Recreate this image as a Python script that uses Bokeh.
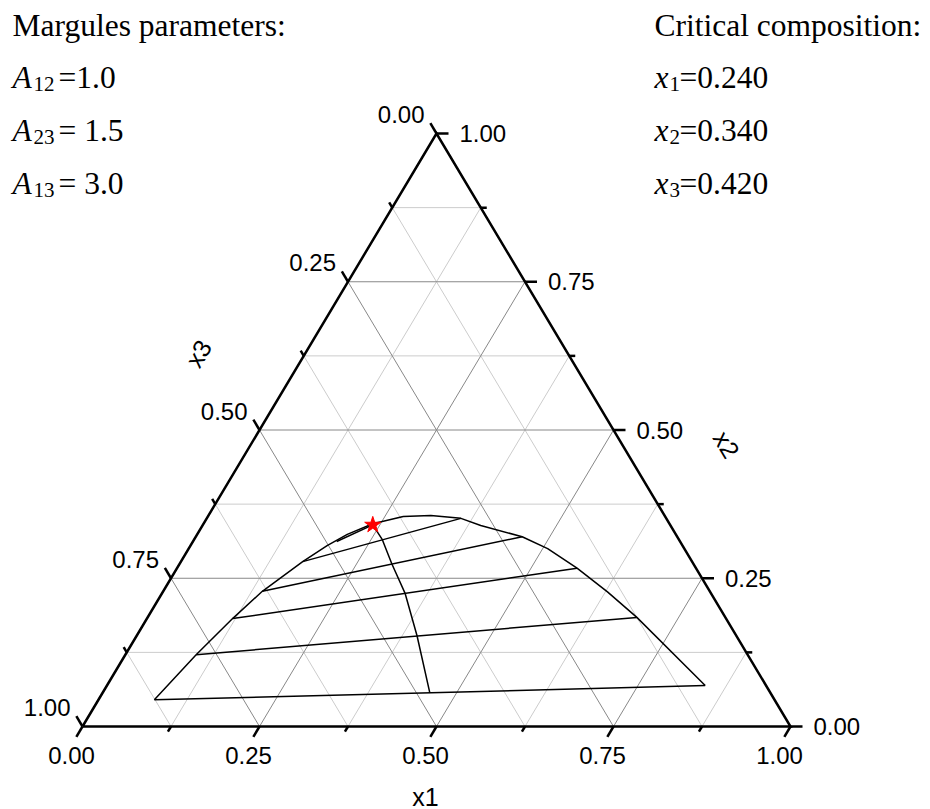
import math
from bokeh.plotting import figure
from bokeh.models import Range1d
from bokeh.embed import file_html
from bokeh.resources import INLINE
from bokeh.core.properties import value

# ---------------- data (ternary compositions: x1, x2; x3 = 1 - x1 - x2) ----------------
major_ticks = [0.0, 0.25, 0.5, 0.75, 1.0]
minor_ticks = [0.125, 0.375, 0.625, 0.875]
tick_labels = ["0.00", "0.25", "0.50", "0.75", "1.00"]

binodal_x1 = [0.079, 0.100, 0.121, 0.140, 0.172, 0.193, 0.212, 0.239, 0.276, 0.314,
              0.359, 0.393, 0.461, 0.507, 0.565, 0.628, 0.691, 0.845]
binodal_x2 = [0.045, 0.121, 0.182, 0.228, 0.278, 0.305, 0.324, 0.342, 0.354, 0.356,
              0.351, 0.339, 0.320, 0.300, 0.267, 0.227, 0.184, 0.069]

tie_left_x1 = [0.079, 0.100, 0.121, 0.140, 0.172, 0.203]
tie_left_x2 = [0.045, 0.121, 0.182, 0.228, 0.278, 0.312]
tie_right_x1 = [0.845, 0.691, 0.565, 0.461, 0.359, 0.240]
tie_right_x2 = [0.069, 0.184, 0.267, 0.320, 0.351, 0.340]

diam_x1 = [0.240, 0.266, 0.300, 0.343, 0.396, 0.462]
diam_x2 = [0.340, 0.315, 0.274, 0.225, 0.153, 0.057]

crit_x1 = [0.240]
crit_x2 = [0.340]

margules_subs = ["12", "23", "13"]
margules_vals = ["=1.0", "= 1.5", "= 3.0"]
crit_subs = ["1", "2", "3"]
crit_vals = ["=0.240", "=0.340", "=0.420"]

# ---------------- layout ----------------
W, H = 930, 809
LEFT, BASE, TW, TH = 82.0, 726.0, 708.0, 593.0   # triangle placement in pixels


def cart(x1, x2):
    return x1 + 0.5 * x2, x2


def dx(px):
    return px / TW


def dy(px):            # pixel offset downward -> data offset
    return -px / TH


def px_x(X):
    return (X - LEFT) / TW


def px_y(Y):
    return (BASE - Y) / TH


p = figure(width=W, height=H, output_backend="svg", toolbar_location=None,
           x_range=Range1d(px_x(0), px_x(W)), y_range=Range1d(px_y(H), px_y(0)),
           min_border=0, outline_line_color=None)
p.axis.visible = False
p.grid.visible = False
p.background_fill_color = "white"
p.border_fill_color = "white"

# ---------------- grid ----------------
def grid_lines(vals):
    xs, ys = [], []
    for v in vals:
        a = cart(v, 0.0); b = cart(v, 1 - v)          # constant x1
        xs.append([a[0], b[0]]); ys.append([a[1], b[1]])
        a = cart(0.0, v); b = cart(1 - v, v)          # constant x2
        xs.append([a[0], b[0]]); ys.append([a[1], b[1]])
        a = cart(1 - v, 0.0); b = cart(0.0, 1 - v)    # constant x3
        xs.append([a[0], b[0]]); ys.append([a[1], b[1]])
    return xs, ys

gx, gy = grid_lines(minor_ticks)
p.multi_line(gx, gy, line_color="#cccccc", line_width=1)
gx, gy = grid_lines([v for v in major_ticks if 0 < v < 1])
p.multi_line(gx, gy, line_color="#888888", line_width=1)

# ---------------- triangle edges ----------------
tri = [cart(0, 0), cart(1, 0), cart(0, 1), cart(0, 0)]
p.line([t[0] for t in tri], [t[1] for t in tri], line_color="black", line_width=2.5,
       line_join="miter")

# ---------------- ticks ----------------
le = math.hypot(354.0, 593.0)
ux, uy = 354.0 / le, 593.0 / le


def ticks(vals, L):
    xs, ys = [], []
    for v in vals:
        bx, by = cart(v, 0.0)                      # bottom (x1)
        xs.append([bx, bx + dx(-ux * L)]); ys.append([by, by + dy(uy * L)])
        rx, ry = cart(1 - v, v)                    # right (x2)
        xs.append([rx, rx + dx(L)]); ys.append([ry, ry])
        lx, ly = cart(0.0, 1 - v)                  # left (x3)
        xs.append([lx, lx + dx(-ux * L)]); ys.append([ly, ly + dy(-uy * L)])
    return xs, ys

tx, ty = ticks(major_ticks, 12)
p.multi_line(tx, ty, line_color="black", line_width=2.5)
tx, ty = ticks(minor_ticks, 6)
p.multi_line(tx, ty, line_color="black", line_width=2.5)

# ---------------- tick labels ----------------
sans = value("Liberation Sans")
fs = "24px"
bx = [cart(v, 0)[0] + dx(-11) for v in major_ticks]
by = [cart(v, 0)[1] + dy(28.5) for v in major_ticks]
p.text(bx, by, text=tick_labels, text_font=sans, text_font_size=fs,
       text_align="center", text_baseline="middle", text_color="black")
rx = [cart(1 - v, v)[0] + dx(23) for v in major_ticks]
ry = [cart(1 - v, v)[1] for v in major_ticks]
p.text(rx, ry, text=tick_labels, text_font=sans, text_font_size=fs,
       text_align="left", text_baseline="middle", text_color="black")
lx = [cart(0, 1 - v)[0] + dx(-12) for v in major_ticks]
ly = [cart(0, 1 - v)[1] + dy(-19) for v in major_ticks]
p.text(lx, ly, text=tick_labels, text_font=sans, text_font_size=fs,
       text_align="right", text_baseline="middle", text_color="black")

# axis titles
mb = cart(0.5, 0); mr = cart(0.5, 0.5); ml = cart(0, 0.5)
ang = math.atan2(593.0, 354.0)
p.text([mb[0] + dx(-11)], [mb[1] + dy(70)], text=["x1"], text_font=sans,
       text_font_size="25px", text_align="center", text_baseline="middle")
p.text([mr[0] + dx(113)], [mr[1] + dy(14.5)], text=["x2"], text_font=sans,
       text_font_size="25px", text_align="center", text_baseline="middle", angle=-ang)
p.text([ml[0] + dx(-61)], [ml[1] + dy(-76.5)], text=["x3"], text_font=sans,
       text_font_size="25px", text_align="center", text_baseline="middle", angle=ang)

# ---------------- phase diagram ----------------
bxs, bys = zip(*[cart(a, b) for a, b in zip(binodal_x1, binodal_x2)])
p.line(list(bxs), list(bys), line_color="black", line_width=1.5)

tl = [cart(a, b) for a, b in zip(tie_left_x1, tie_left_x2)]
tr = [cart(a, b) for a, b in zip(tie_right_x1, tie_right_x2)]
p.segment([t[0] for t in tl], [t[1] for t in tl], [t[0] for t in tr], [t[1] for t in tr],
          line_color="black", line_width=1.5)

dxs, dys = zip(*[cart(a, b) for a, b in zip(diam_x1, diam_x2)])
p.line(list(dxs), list(dys), line_color="black", line_width=1.5)

cx, cy = zip(*[cart(a, b) for a, b in zip(crit_x1, crit_x2)])
p.scatter(list(cx), list(cy), marker="star", size=17, fill_color="red",
          line_color="red")

# ---------------- annotations ----------------
serif = value("Liberation Serif")
big, small = "31.5px", "21px"
title_c = 25
row_c = [77, 130, 183]
p.text([px_x(12)], [px_y(title_c)], text=["Margules parameters:"], text_font=serif,
       text_font_size=big, text_baseline="middle")
p.text([px_x(12)] * 3, [px_y(c) for c in row_c], text=["A"] * 3, text_font=serif,
       text_font_style="italic", text_font_size=big, text_baseline="middle")
p.text([px_x(33)] * 3, [px_y(c + 6) for c in row_c], text=margules_subs,
       text_font=serif, text_font_size=small, text_baseline="middle")
p.text([px_x(58)] * 3, [px_y(c) for c in row_c], text=margules_vals,
       text_font=serif, text_font_size=big, text_baseline="middle")

p.text([px_x(654)], [px_y(title_c)], text=["Critical composition:"], text_font=serif,
       text_font_size=big, text_baseline="middle")
p.text([px_x(654)] * 3, [px_y(c) for c in row_c], text=["x"] * 3, text_font=serif,
       text_font_style="italic", text_font_size=big, text_baseline="middle")
p.text([px_x(669)] * 3, [px_y(c + 6) for c in row_c], text=crit_subs,
       text_font=serif, text_font_size=small, text_baseline="middle")
p.text([px_x(679)] * 3, [px_y(c) for c in row_c], text=crit_vals,
       text_font=serif, text_font_size=big, text_baseline="middle")

open("out.html", "w").write(file_html(p, INLINE))
